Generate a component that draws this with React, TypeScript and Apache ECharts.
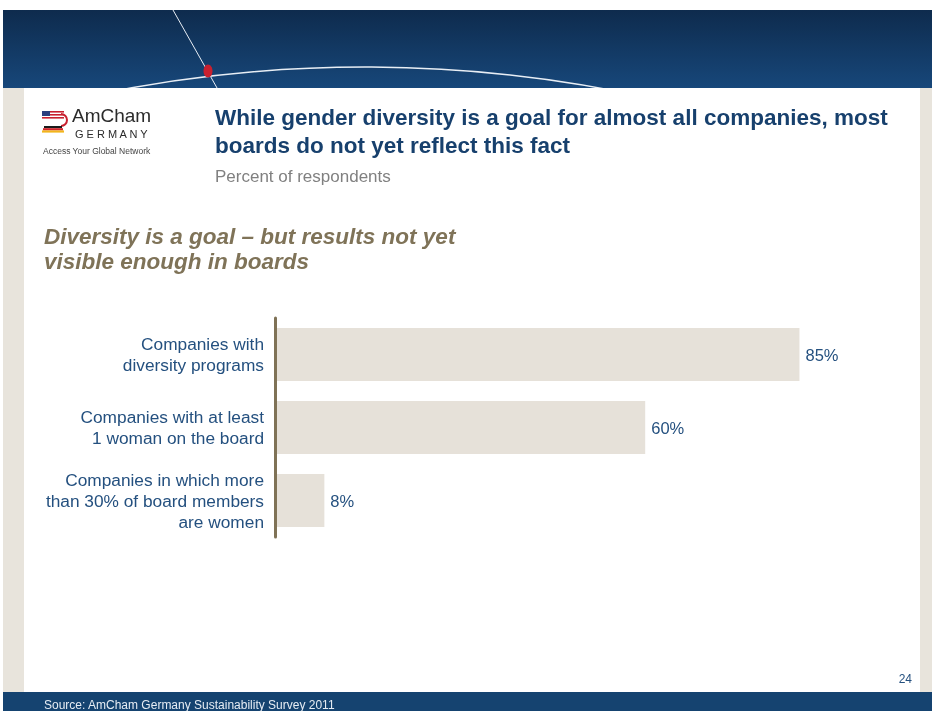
import React, { useEffect, useRef } from "react";
import * as echarts from "echarts";

const categories = [
  "Companies with\ndiversity programs",
  "Companies with at least\n1 woman on the board",
  "Companies in which more\nthan 30% of board members\nare women",
];
const values = [85, 60, 8];
const titleLines = [
  "While gender diversity is a goal for almost all companies, most",
  "boards do not yet reflect this fact",
];
const subtitle = "Percent of respondents";
const heading = ["Diversity is a goal \u2013 but results not yet", "visible enough in boards"];
const source = "Source: AmCham Germany Sustainability Survey 2011";
const pageNumber = "24";

const FONT = "'Liberation Sans', Arial, sans-serif";
const NAVY = "#17406D";
const LABEL = "#24507F";

export default function App() {
  const ref = useRef<HTMLDivElement>(null);
  useEffect(() => {
    if (!ref.current) return;
    const chart = echarts.init(ref.current, undefined, { renderer: "svg" });
    const graphic: any[] = [
      { type: "rect", z: 0, shape: { x: 3, y: 88, width: 929, height: 606 }, style: { fill: "#E8E4DC" } },
      {
        type: "rect", z: 0, shape: { x: 3, y: 10, width: 929, height: 78 },
        style: {
          fill: new echarts.graphic.LinearGradient(0, 0, 0, 1, [
            { offset: 0, color: "#0E2B4D" },
            { offset: 1, color: "#17477A" },
          ]),
        },
      },
      {
        type: "arc", z: 1,
        shape: { cx: 365, cy: 1392, r: 1325, startAngle: -Math.PI / 2 - 0.21, endAngle: -Math.PI / 2 + 0.22, clockwise: true },
        style: { stroke: "#E8EEF5", lineWidth: 1.5, fill: null },
      },
      { type: "line", z: 1, shape: { x1: 173, y1: 10, x2: 221, y2: 95 }, style: { stroke: "#E8EEF5", lineWidth: 1 } },
      { type: "ellipse", z: 2, shape: { cx: 208, cy: 71, rx: 4.5, ry: 6.5 }, style: { fill: "#C8202F" } },
      { type: "rect", z: 3, shape: { x: 24, y: 88, width: 896, height: 604 }, style: { fill: "#FFFFFF" } },
      { type: "rect", z: 3, shape: { x: 3, y: 692, width: 929, height: 19 }, style: { fill: "#154370" } },
      // logo icon
      { type: "rect", z: 4, shape: { x: 42, y: 111, width: 8, height: 5 }, style: { fill: "#2A3F7E" } },
      { type: "rect", z: 4, shape: { x: 50, y: 111, width: 14, height: 1.6 }, style: { fill: "#C8202F" } },
      { type: "rect", z: 4, shape: { x: 50, y: 114, width: 14, height: 1.6 }, style: { fill: "#C8202F" } },
      { type: "rect", z: 4, shape: { x: 42, y: 117, width: 22, height: 1.6 }, style: { fill: "#C8202F" } },
      {
        type: "arc", z: 4,
        shape: { cx: 61, cy: 120, r: 6, startAngle: -Math.PI / 2, endAngle: Math.PI / 2, clockwise: true },
        style: { stroke: "#C8202F", lineWidth: 2, fill: null },
      },
      { type: "rect", z: 4, shape: { x: 44, y: 126, width: 18, height: 2.2 }, style: { fill: "#1A1A1A" } },
      { type: "rect", z: 4, shape: { x: 43, y: 128.2, width: 20, height: 2.2 }, style: { fill: "#D2232A" } },
      { type: "rect", z: 4, shape: { x: 42, y: 130.4, width: 22, height: 2.2 }, style: { fill: "#F2B51C" } },
      { type: "text", z: 4, style: { x: 72, y: 106, text: "AmCham", font: `19px ${FONT}`, fill: "#2B2B2B" } },
      { type: "text", z: 4, style: { x: 75, y: 128, text: "G E R M A N Y", font: `11px ${FONT}`, fill: "#2B2B2B" } },
      { type: "text", z: 4, style: { x: 43, y: 146, text: "Access Your Global Network", font: `8.5px ${FONT}`, fill: "#444444" } },
      // titles
      { type: "text", z: 4, style: { x: 215, y: 106, text: titleLines[0], font: `bold 22.5px ${FONT}`, fill: NAVY } },
      { type: "text", z: 4, style: { x: 215, y: 134, text: titleLines[1], font: `bold 22.5px ${FONT}`, fill: NAVY } },
      { type: "text", z: 4, style: { x: 215, y: 168, text: subtitle, font: `17px ${FONT}`, fill: "#808080" } },
      { type: "text", z: 4, style: { x: 44, y: 225, text: heading[0], font: `italic bold 22.5px ${FONT}`, fill: "#7F7358" } },
      { type: "text", z: 4, style: { x: 44, y: 250, text: heading[1], font: `italic bold 22.5px ${FONT}`, fill: "#7F7358" } },
      { type: "text", z: 4, style: { x: 912, y: 673, text: pageNumber, font: `12px ${FONT}`, fill: LABEL, align: "right" } },
      { type: "text", z: 4, style: { x: 44, y: 698.5, text: source, font: `12px ${FONT}`, fill: "#E6ECF3" } },
    ];

    chart.setOption({
      animation: false,
      graphic,
      grid: { left: 275, top: 318, width: 617, height: 219, containLabel: false },
      xAxis: { type: "value", min: 0, max: 100, show: false, splitLine: { show: false } },
      yAxis: {
        type: "category",
        inverse: true,
        data: categories,
        axisLine: { show: true, lineStyle: { color: "#7F7256", width: 3 } },
        axisTick: { show: false },
        axisLabel: { color: LABEL, fontSize: 17.3, lineHeight: 21, fontFamily: FONT, margin: 11, align: "right" },
        z: 10,
      },
      series: [
        {
          type: "bar",
          data: values,
          barWidth: 53,
          z: 5,
          itemStyle: { color: "#E6E1D9" },
          label: {
            show: true,
            position: "right",
            distance: 6,
            formatter: "{c}%",
            color: LABEL,
            fontSize: 16.5,
            fontFamily: FONT,
          },
        },
      ],
    });
    return () => chart.dispose();
  }, []);
  return <div ref={ref} style={{ position: "fixed", left: 0, top: 0, width: 935, height: 711 }} />;
}
